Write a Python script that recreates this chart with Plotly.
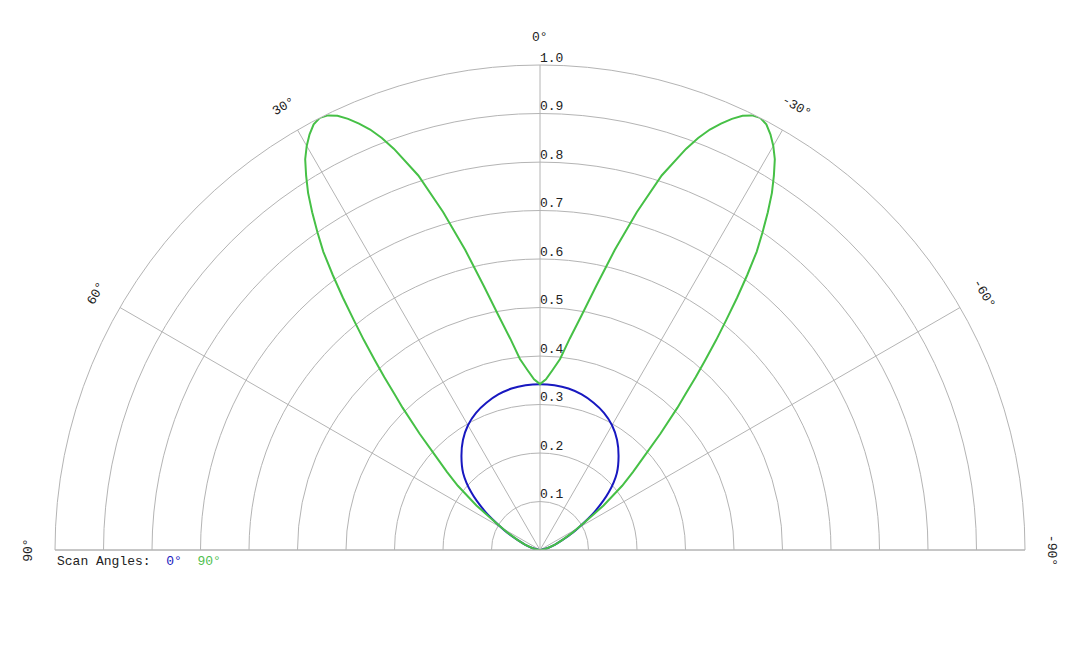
import math
import plotly.graph_objects as go

# scan angle 0 deg pattern (blue)
blue_theta = [-90, -85, -80, -75, -70, -66, -62, -58, -55, -50, -45, -40, -35, -30, -25, -20, -15, -10, -5,
              0, 5, 10, 15, 20, 25, 30, 35, 40, 45, 50, 55, 58, 62, 66, 70, 75, 80, 85, 90]
blue_r = [0.0, 0.002, 0.008, 0.018, 0.033, 0.05, 0.077, 0.108, 0.138, 0.185, 0.224, 0.252, 0.277, 0.297, 0.312,
          0.323, 0.332, 0.338, 0.341,
          0.342, 0.341, 0.338, 0.332, 0.323, 0.312, 0.297, 0.277, 0.252, 0.224, 0.185, 0.138, 0.108, 0.077,
          0.05, 0.033, 0.018, 0.008, 0.002, 0.0]

# scan angle 90 deg pattern (green)
green_theta = [-90, -85, -80, -75, -70, -66, -62, -58, -55, -52, -50, -48, -46, -44, -43, -42, -41, -40, -39,
               -38, -37, -36, -35, -34, -33, -32, -31, -30, -29, -28, -27, -26, -25, -24, -23, -22, -21, -20,
               -18, -16, -14, -12, -10, -8, -6, -4, -2,
               0, 2, 4, 6, 8, 10, 12, 14, 16, 18, 20, 21, 22, 23, 24, 25, 26, 27, 28, 29, 30, 31, 32, 33, 34,
               35, 36, 37, 38, 39, 40, 41, 42, 43, 44, 46, 48, 50, 52, 55, 58, 62, 66, 70, 75, 80, 85, 90]
green_r = [0.0, 0.002, 0.008, 0.018, 0.033, 0.05, 0.075, 0.11, 0.16, 0.215, 0.25, 0.29, 0.345, 0.408, 0.44,
           0.48, 0.52, 0.565, 0.61, 0.66, 0.71, 0.76, 0.80, 0.84, 0.878, 0.91, 0.94, 0.962, 0.98, 0.994, 1.0,
           0.997, 0.988, 0.973, 0.955, 0.935, 0.91, 0.88, 0.812, 0.725, 0.638, 0.556, 0.49, 0.44, 0.396,
           0.372, 0.352,
           0.342, 0.352, 0.372, 0.396, 0.44, 0.49, 0.556, 0.638, 0.725, 0.812, 0.88, 0.91, 0.935, 0.955,
           0.973, 0.988, 0.997, 1.0, 0.994, 0.98, 0.962, 0.94, 0.91, 0.878, 0.84, 0.80, 0.76, 0.71, 0.66,
           0.61, 0.565, 0.52, 0.48, 0.44, 0.408, 0.345, 0.29, 0.25, 0.215, 0.16, 0.11, 0.075, 0.05, 0.033,
           0.018, 0.008, 0.002, 0.0]

radial_ticks = [0.1, 0.2, 0.3, 0.4, 0.5, 0.6, 0.7, 0.8, 0.9, 1.0]
radial_labels = ["0.1", "0.2", "0.3", "0.4", "0.5", "0.6", "0.7", "0.8", "0.9", "1.0"]
angle_ticks = [90, 60, 30, 0, -30, -60, -90]
angle_labels = ["90°", "60°", "30°", "0°", "-30°", "-60°", "-90°"]

BLUE = "#1818c0"
GREEN = "#46c046"
GRID = "#b4b4b4"
FONT = "Liberation Mono, Courier New, monospace"

fig = go.Figure()
fig.add_trace(go.Scatterpolar(
    r=blue_r, theta=blue_theta, mode='lines',
    line=dict(color=BLUE, width=2, shape='spline', smoothing=0.8), hoverinfo='skip'
))
fig.add_trace(go.Scatterpolar(
    r=green_r, theta=green_theta, mode='lines',
    line=dict(color=GREEN, width=2), hoverinfo='skip'
))
# radial tick labels along the 0 deg spoke
fig.add_trace(go.Scatterpolar(
    r=radial_ticks, theta=[0] * len(radial_ticks), mode='text',
    text=radial_labels, textposition='top right',
    textfont=dict(family=FONT, size=13, color="#222222"), hoverinfo='skip'
))

# angular labels, rotated to follow the arc
label_r = 1.056
annotations = []
for ang, lab in zip(angle_ticks, angle_labels):
    a = math.radians(ang)
    annotations.append(dict(
        x=0.5 - label_r * math.sin(a) / 2, y=label_r * math.cos(a),
        xref='paper', yref='paper', text=lab, showarrow=False,
        textangle=-ang, xanchor='center', yanchor='middle',
        font=dict(family=FONT, size=13, color="#222222")
    ))

annotations.append(dict(
    x=0.0, y=-0.024, xref='paper', yref='paper', xanchor='left', yanchor='middle',
    showarrow=False,
    text=("Scan Angles:\u00a0\u00a0<span style='color:%s'>0°</span>"
          "\u00a0\u00a0<span style='color:%s'>90°</span>") % ("#2020c0", "#50c050"),
    font=dict(family=FONT, size=13, color="#222222")
))

# page body adds 8px, so margins are shifted to keep the centre at (540, 550)
fig.update_layout(
    width=1080, height=648,
    margin=dict(l=47, r=63, t=57, b=106),
    paper_bgcolor='white',
    showlegend=False,
    polar=dict(
        sector=[0, 180],
        bgcolor='white',
        domain=dict(x=[0, 1], y=[0, 1]),
        radialaxis=dict(
            range=[0, 1], tick0=0, dtick=0.1, showticklabels=False, ticks='',
            showline=False, gridcolor=GRID, gridwidth=1
        ),
        angularaxis=dict(
            thetaunit='degrees', rotation=90, direction='counterclockwise',
            tickmode='array', tickvals=angle_ticks, showticklabels=False, ticks='',
            showline=True, linecolor=GRID, linewidth=1, gridcolor=GRID, gridwidth=1
        )
    ),
    annotations=annotations
)

fig.write_html("out.html")
